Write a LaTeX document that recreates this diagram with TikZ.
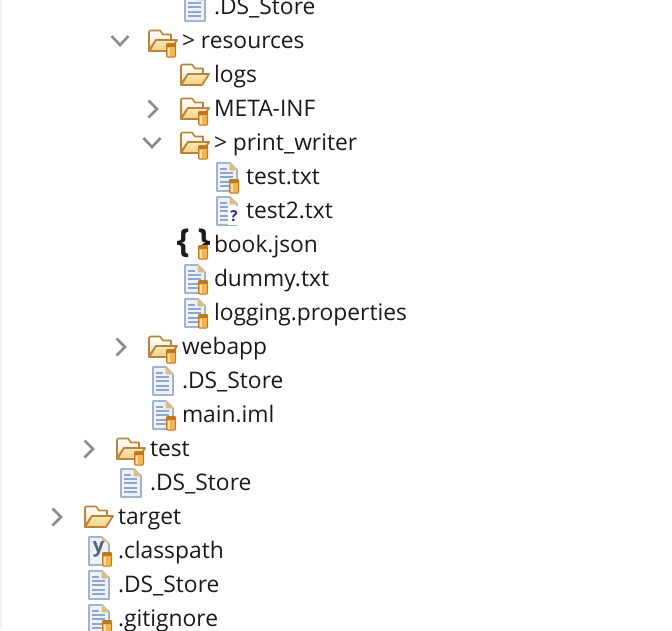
\documentclass[tikz,border=0pt]{standalone}
\usepackage{fontspec}
\setmainfont{Open Sans}
\definecolor{txt}{HTML}{1A1A1A}
\definecolor{chev}{HTML}{8C8C8C}
\definecolor{foldedge}{HTML}{B9843C}
\definecolor{foldback}{HTML}{F3E3BE}
\definecolor{foldfront}{HTML}{FBE9B4}
\definecolor{foldlow}{HTML}{F2CF86}
\definecolor{fileedge}{HTML}{A3B3CC}
\definecolor{filefill}{HTML}{EEF2F8}
\definecolor{fileline}{HTML}{8CA6CC}
\definecolor{fold}{HTML}{D8BE88}
\definecolor{jar}{HTML}{F4B450}
\definecolor{jaredge}{HTML}{BB7A22}
\definecolor{qmark}{HTML}{1F1F9C}
\tikzset{
  x=1pt,y=-1pt,
  label text/.style={anchor=base west,inner sep=0pt,outer sep=0pt,text=txt,font=\fontsize{22.8}{26}\selectfont},
  chevron/.style={draw=chev,line width=2.6pt,line cap=butt,line join=miter},
  pics/folderic/.style={code={
    \path[top color=white,bottom color=foldback,draw=foldedge,line width=1.6pt,line join=round]
      (1,9) -- (1,-9) .. controls (1,-10.5) and (2,-10.5) .. (3,-10.5) -- (12,-10.5) -- (15,-6.5) -- (23,-6.5) -- (23,-1) -- (8,-1) -- (1,9) -- cycle;
    \path[top color=foldfront,bottom color=foldlow,draw=foldedge,line width=1.8pt,line join=round]
      (1,10) -- (8,-1) -- (29,-1) -- (22,10) -- cycle;
  }},
  pics/fileic/.style={code={
    \fill[filefill,draw=fileedge,line width=1.6pt,line join=round]
      (1,-14) -- (14,-14) -- (21,-7) -- (21,14) -- (1,14) -- cycle;
    \fill[fold,draw=fold,line width=.6pt] (14,-14) -- (21,-7) -- (14,-7) -- cycle;
    \foreach \yy/\xx in {-8/11,-3.8/17,0.4/17,4.6/17,8.8/17}
      \draw[fileline,line width=2pt] (4,\yy) -- (\xx,\yy);
  }},
  pics/jaric/.style={code={
    \fill[jar,draw=jaredge,line width=1pt,rounded corners=1pt] (0.5,0) rectangle (9.5,12);
    \fill[jaredge,rounded corners=1pt] (0,-2) rectangle (10,1.8);
    \fill[white,opacity=.55] (2.4,3) rectangle (4.4,11);
  }},
}
\newcommand{\rowlabel}[4]{\node[label text] (#1) at (#2,#3+7.5) {#4};}
\begin{document}
\begin{tikzpicture}
\useasboundingbox (0,0) rectangle (672,630);
\fill[white] (0,0) rectangle (672,630);
\fill[black!5] (0,0) rectangle (1.5,630);
% chevrons
\draw[chevron] (111.5,36) -- (120,45) -- (128.5,36);
\draw[chevron] (148.5,100.5) -- (157,109) -- (148.5,117.5);
\draw[chevron] (143.5,138) -- (152,147) -- (160.5,138);
\draw[chevron] (116.5,338.5) -- (125,347) -- (116.5,355.5);
\draw[chevron] (84.5,440.5) -- (93,449) -- (84.5,457.5);
\draw[chevron] (52.5,508.5) -- (61,517) -- (52.5,525.5);
% folders
\pic at (148,41) {folderic}; \pic at (166,45) {jaric};
\pic at (180,75) {folderic};
\pic at (180,109) {folderic}; \pic at (198,113) {jaric};
\pic at (180,143) {folderic}; \pic at (198,147) {jaric};
\pic at (148,347) {folderic}; \pic at (166,351) {jaric};
\pic at (116,449) {folderic}; \pic at (134,453) {jaric};
\pic at (84,517) {folderic};
% files
\pic at (184,7) {fileic};
\pic at (216,177) {fileic}; \pic at (229,181) {jaric};
\pic at (216,211) {fileic};
\fill[white] (228,206) rectangle (240,225);
\node[inner sep=0pt,text=qmark,font=\bfseries\fontsize{15}{15}\selectfont] (qbadge) at (234,216) {?};
\pic at (184,279) {fileic}; \pic at (198,282) {jaric};
\pic at (184,313) {fileic}; \pic at (198,316) {jaric};
\pic at (152,381) {fileic};
\pic at (152,415) {fileic}; \pic at (166,418) {jaric};
\pic at (120,483) {fileic};
\pic at (88,551) {fileic};
\fill[filefill] (90,542) rectangle (107,563);
\node[inner sep=0pt,text=fileline!60!black,font=\bfseries\fontsize{20}{20}\selectfont] (ybadge) at (98.5,549) {y};
\pic at (102,554) {jaric};
\pic at (88,585) {fileic};
\pic at (88,619) {fileic}; \pic at (102,622) {jaric};
% braces icon
\node[inner sep=0pt,text=txt,font=\bfseries\fontsize{33}{33}\selectfont] (bracel) at (183,243) {\{};
\node[inner sep=0pt,text=txt,font=\bfseries\fontsize{33}{33}\selectfont] (bracer) at (204,243) {\}};
\pic at (198,247) {jaric};
% labels
\rowlabel{a}{214}{7}{.DS\_Store}
\rowlabel{b}{182}{41}{> resources}
\rowlabel{c}{214}{75}{logs}
\rowlabel{d}{214}{109}{META-INF}
\rowlabel{e}{214}{143}{> print\_writer}
\rowlabel{f}{246}{177}{test.txt}
\rowlabel{g}{246}{211}{test2.txt}
\rowlabel{h}{214}{245}{book.json}
\rowlabel{i}{214}{279}{dummy.txt}
\rowlabel{j}{214}{313}{logging.properties}
\rowlabel{k}{182}{347}{webapp}
\rowlabel{l}{182}{381}{.DS\_Store}
\rowlabel{m}{182}{415}{main.iml}
\rowlabel{n}{150}{449}{test}
\rowlabel{o}{150}{483}{.DS\_Store}
\rowlabel{p}{118}{517}{target}
\rowlabel{q}{118}{551}{.classpath}
\rowlabel{r}{118}{585}{.DS\_Store}
\rowlabel{s}{118}{619}{.gitignore}
\end{tikzpicture}
\end{document}
